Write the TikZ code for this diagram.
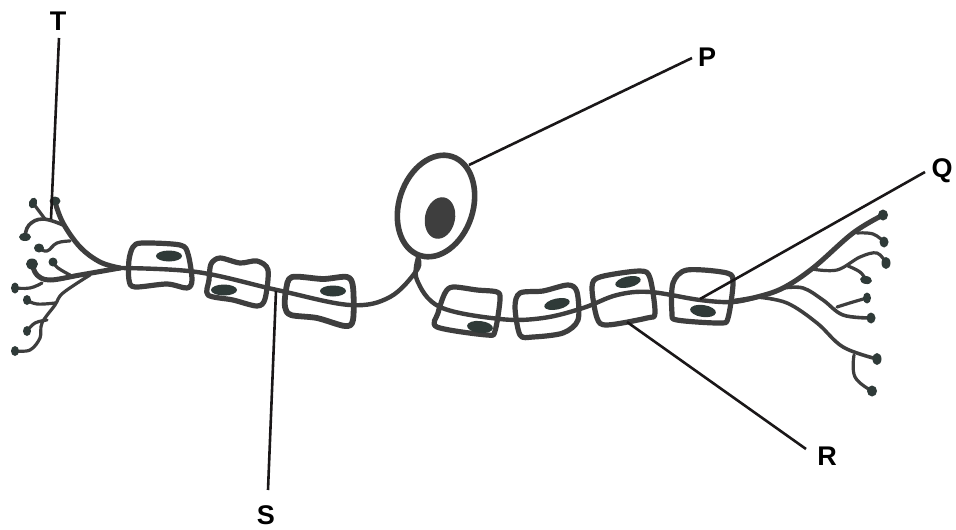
\documentclass[tikz,border=0pt]{standalone}
\usepackage{fontspec}
\setmainfont{Liberation Sans}
\definecolor{cellc}{HTML}{3E3E3E}
\definecolor{nucc}{HTML}{2F3A38}
\definecolor{leadc}{HTML}{1A1718}
\tikzset{
  cellwall/.style={draw=cellc,line width=5.2pt,line join=round},
  axon/.style={draw=cellc,line width=4.4pt,line cap=round,line join=round},
  thickbr/.style={draw=cellc,line width=5pt,line cap=round,line join=round},
  branch/.style={draw=cellc,line width=3.2pt,line cap=round,line join=round},
  nuc/.style={fill=nucc},
  leader/.style={draw=leadc,line width=2.6pt},
  lab/.style={font=\bfseries\fontsize{27}{30}\selectfont,text=black,inner sep=0pt}
}
\newcommand{\tip}[5][0]{\fill[nuc,shift={(#2,#3)},rotate=#1] (0,0) ellipse (#4pt and #5pt);}
\begin{document}
\begin{tikzpicture}[x=1pt,y=-1pt]
\useasboundingbox (0,0) rectangle (956,530);
% soma
\draw[cellwall,line width=5.6pt,shift={(436,206)},rotate=-18] (0,0) ellipse (37pt and 52pt);
\fill[cellc,shift={(440,218)},rotate=-12] (0,0) ellipse (15pt and 21pt);
% axons
\draw[axon] plot[smooth,tension=0.6] coordinates {(418,258) (417,270) (390,297) (350,305) (277,290) (197,272) (120,268)};
\draw[axon] plot[smooth,tension=0.6] coordinates {(418,258) (417,280) (440,307) (500,319) (543,318) (583,308) (617,295) (650,292) (700,300) (733,302) (757,297)};
% cells
\draw[cellwall] plot[smooth cycle,tension=0.5] coordinates {(129,260) (133,247) (142,243) (180,245) (188,254) (192,280) (187,288) (167,284) (135,287) (129,280)};
\draw[cellwall] plot[smooth cycle,tension=0.5] coordinates {(209,280) (211,264) (220,258) (240,263) (257,261) (268,270) (265,299) (257,306) (233,300) (208,295)};
\draw[cellwall,line width=5.8pt] plot[smooth cycle,tension=0.5] coordinates {(286,290) (292,277) (323,279) (347,277) (353,287) (353,320) (345,326) (317,318) (291,315) (285,307)};
\draw[cellwall] plot[smooth cycle,tension=0.5] coordinates {(445,293) (453,287) (477,290) (497,292) (500,300) (495,331) (487,335) (437,327) (438,313)};
\draw[cellwall] plot[smooth cycle,tension=0.5] coordinates {(515,307) (520,293) (543,291) (568,285) (577,292) (578,320) (563,333) (533,337) (520,335)};
\draw[cellwall] plot[smooth cycle,tension=0.5] coordinates {(592,287) (600,277) (640,271) (650,278) (655,313) (647,318) (607,325) (597,318)};
\draw[cellwall] plot[smooth cycle,tension=0.5] coordinates {(673,283) (687,270) (727,273) (733,283) (728,318) (720,323) (677,320) (672,313)};
% nuclei
\tip{169}{256}{13}{5.5}
\tip{224}{290}{13}{5.5}
\tip{333}{291}{13}{5.5}
\tip[-6]{480}{327}{13}{6}
\tip[12]{557}{304}{13}{5.5}
\tip[12]{628}{282}{13}{5.5}
\tip[-8]{703}{311}{13}{6}
% right arbor
\draw[thickbr] plot[smooth,tension=0.6] coordinates {(735,301) (757,297) (783,288) (813,268) (853,233) (883,215)};
\draw[branch] plot[smooth,tension=0.7] coordinates {(857,233) (873,234) (884,242)};
\draw[branch] plot[smooth,tension=0.6] coordinates {(812,269) (837,270) (860,257) (877,253) (886,263)};
\draw[branch] plot[smooth,tension=0.7] coordinates {(848,266) (860,272) (866,280)};
\draw[branch,line width=3.6pt] plot[smooth,tension=0.6] coordinates {(783,288) (803,288) (823,300) (843,315) (871,318)};
\draw[branch] plot[smooth,tension=0.7] coordinates {(837,307) (853,302) (867,298)};
\draw[branch,line width=3.6pt] plot[smooth,tension=0.6] coordinates {(757,297) (787,303) (817,323) (843,347) (877,359)};
\draw[branch] plot[smooth,tension=0.7] coordinates {(854,355) (855,377) (872,391)};
\tip{883}{215}{5}{5.5}
\tip{884}{242}{4.5}{5.5}
\tip{886}{263}{4.5}{6}
\tip[-10]{866}{280}{6}{4}
\tip{867}{298}{4}{5.5}
\tip{871}{318}{4.5}{5.5}
\tip{877}{359}{4.5}{6}
\tip{872}{391}{5}{5.5}
% left arbor
\draw[thickbr] plot[smooth,tension=0.6] coordinates {(120,268) (100,262) (80,247) (63,223) (55,202)};
\draw[branch,line width=3.6pt] plot[smooth,tension=0.7] coordinates {(63,225) (43,219) (29,225) (25,237)};
\draw[branch] plot[smooth,tension=0.7] coordinates {(45,219) (33,203)};
\draw[branch] plot[smooth,tension=0.7] coordinates {(70,241) (57,243) (47,251) (39,248)};
\draw[thickbr] plot[smooth,tension=0.6] coordinates {(120,268) (80,275) (50,280) (37,275) (32,264)};
\draw[branch] plot[smooth,tension=0.7] coordinates {(70,275) (58,268) (53,262)};
\draw[branch] plot[smooth,tension=0.7] coordinates {(42,283) (30,288) (15,288)};
\draw[branch] plot[smooth,tension=0.6] coordinates {(90,275) (63,293) (55,305) (42,323) (40,338) (30,350) (15,351)};
\draw[branch] plot[smooth,tension=0.7] coordinates {(27,300) (37,304) (55,303)};
\draw[branch] plot[smooth,tension=0.7] coordinates {(47,320) (35,323) (27,331)};
\tip{55}{201}{5.5}{4.5}
\tip[-20]{33}{203}{4}{5.5}
\tip{25}{237}{6}{4}
\tip{39}{248}{5}{4.5}
\tip{32}{264}{6}{5.5}
\tip{53}{262}{4.5}{4.5}
\tip{15}{288}{4}{5.5}
\tip{27}{300}{4}{5}
\tip{27}{331}{4}{5}
\tip{15}{351}{4}{5}
% labels and leaders
\node[lab] (T) at (58,21) {T};
\node[lab] (P) at (707,57) {P};
\node[lab] (Q) at (942,171) {Q};
\node[lab] (R) at (827,456) {R};
\node[lab] (S) at (266,515) {S};
\coordinate (tT) at (59,38);
\coordinate (eT) at (51,219);
\coordinate (tP) at (692,58);
\coordinate (eP) at (469,165);
\coordinate (tQ) at (925,172);
\coordinate (eQ) at (700,299);
\coordinate (tR) at (806,449);
\coordinate (eR) at (627,322);
\coordinate (tS) at (268,490);
\coordinate (eS) at (276,291);
\draw[leader] (tT) -- (eT);
\draw[leader] (tP) -- (eP);
\draw[leader] (tQ) -- (eQ);
\draw[leader] (tR) -- (eR);
\draw[leader] (tS) -- (eS);
\end{tikzpicture}
\end{document}
